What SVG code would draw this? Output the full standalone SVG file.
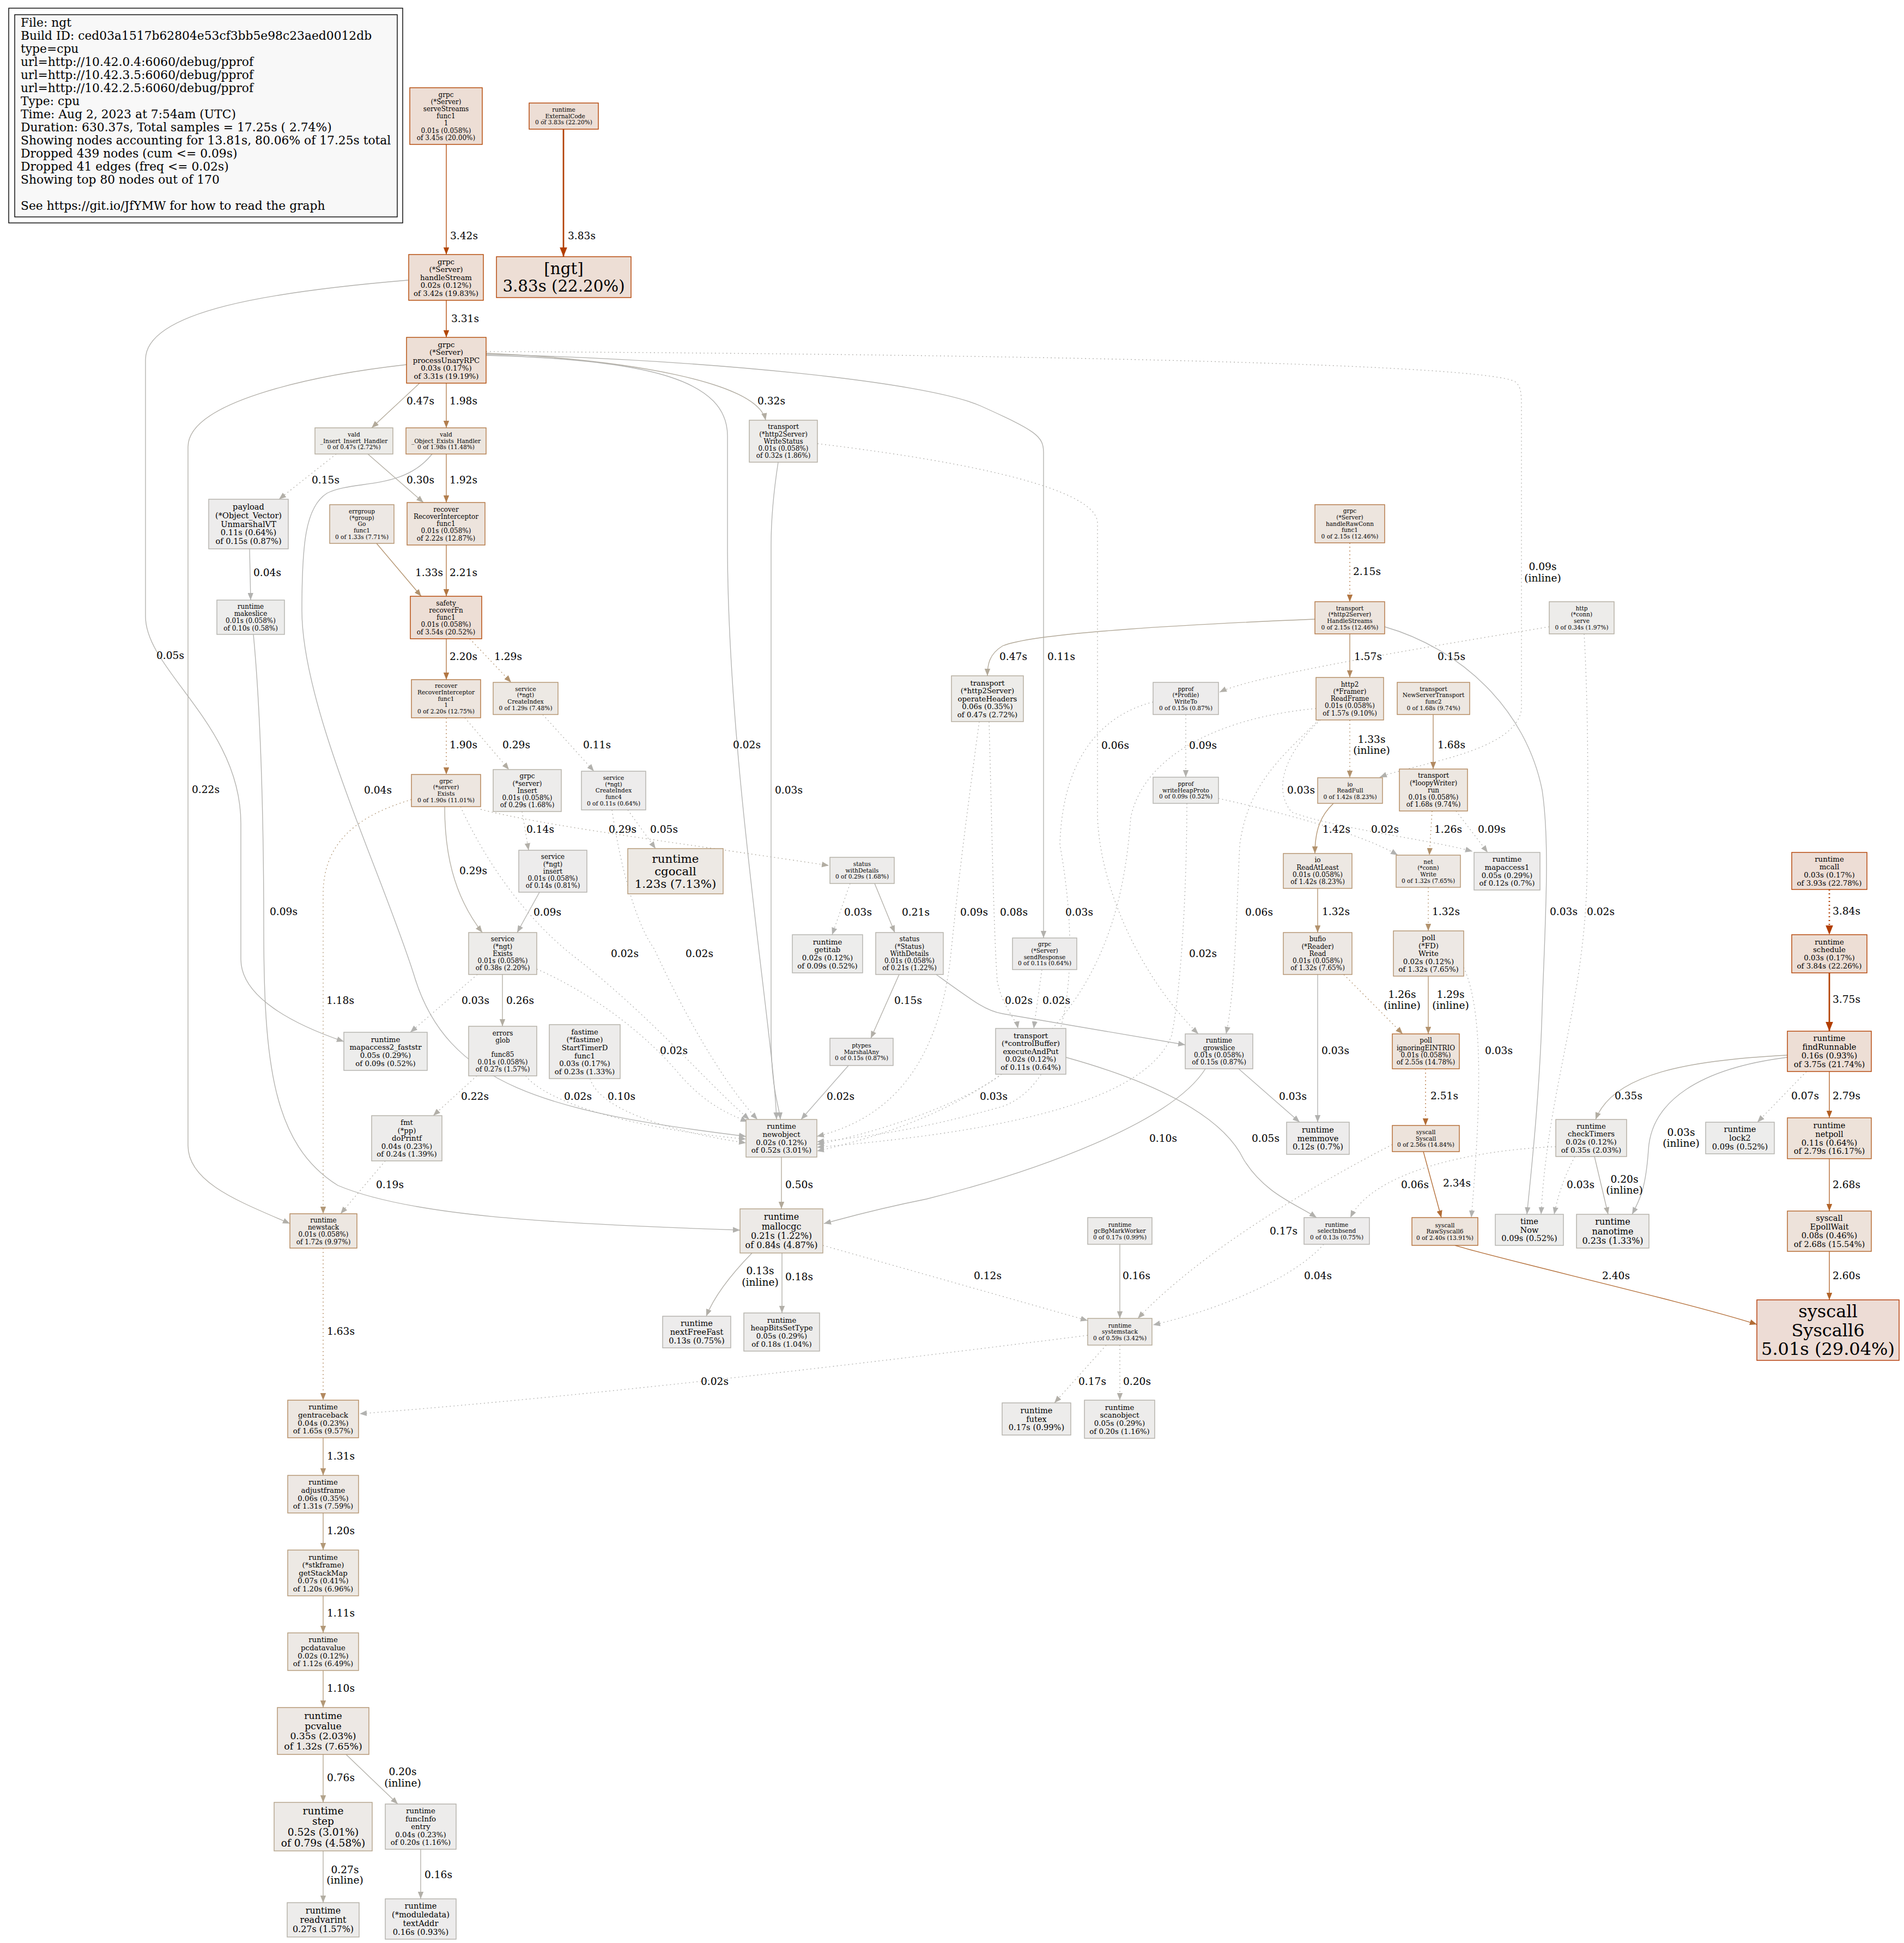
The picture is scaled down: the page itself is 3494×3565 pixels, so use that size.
<svg xmlns="http://www.w3.org/2000/svg" width="3494" height="3565" viewBox="0 0 3494 3565">
<style>
text{font-family:"DejaVu Serif",serif;fill:#000}
.n rect{stroke-width:1.4}
.n text{text-anchor:middle}
.f8{font-size:10.6px}.f9{font-size:12px}.f10{font-size:13.3px}.f11{font-size:14.6px}.f12{font-size:16px}.f13{font-size:17.3px}.f14{font-size:18.6px}.f16{font-size:21.3px}.f22{font-size:29.3px}.f24{font-size:32px}
.lg{font-size:21.8px}
.l{font-size:18.6px}
.lm{font-size:18.6px;text-anchor:middle}
.c path{fill:none;stroke-width:1.35}
.c path.e1{stroke-width:2.7}
.d{stroke-dasharray:2 5}
.e1{stroke:#b23e00;marker-end:url(#m1)}
.e2{stroke:#b24704;marker-end:url(#m2)}
.e3a{stroke:#b25e22;marker-end:url(#m3a)}
.e3b{stroke:#b26429;marker-end:url(#m3b)}
.e3c{stroke:#b26c35;marker-end:url(#m3c)}
.e4{stroke:#b27642;marker-end:url(#m4)}
.e5{stroke:#b27e4e;marker-end:url(#m5)}
.e6{stroke:#b28960;marker-end:url(#m6)}
.e7{stroke:#b2926d;marker-end:url(#m7)}
.e8{stroke:#b29877;marker-end:url(#m8)}
.e9{stroke:#b2a38b;marker-end:url(#m9)}
.e10{stroke:#b2a999;marker-end:url(#m10)}
.e11{stroke:#b2ada2;marker-end:url(#m11)}
.e12{stroke:#b2afa8;marker-end:url(#m12)}
.e13{stroke:#b2b1ad;marker-end:url(#m13)}
.e14{stroke:#b2b2b0;marker-end:url(#m14)}
</style>
<defs>
<marker id="m1" viewBox="0 0 10 8" refX="10" refY="4" markerWidth="17" markerHeight="13.6" markerUnits="userSpaceOnUse" orient="auto"><path d="M0,0L10,4L0,8z" fill="#b23e00"/></marker>
<marker id="m2" viewBox="0 0 10 8" refX="10" refY="4" markerWidth="13" markerHeight="10.4" markerUnits="userSpaceOnUse" orient="auto"><path d="M0,0L10,4L0,8z" fill="#b24704"/></marker>
<marker id="m3a" viewBox="0 0 10 8" refX="10" refY="4" markerWidth="13" markerHeight="10.4" markerUnits="userSpaceOnUse" orient="auto"><path d="M0,0L10,4L0,8z" fill="#b25e22"/></marker>
<marker id="m3b" viewBox="0 0 10 8" refX="10" refY="4" markerWidth="13" markerHeight="10.4" markerUnits="userSpaceOnUse" orient="auto"><path d="M0,0L10,4L0,8z" fill="#b26429"/></marker>
<marker id="m3c" viewBox="0 0 10 8" refX="10" refY="4" markerWidth="13" markerHeight="10.4" markerUnits="userSpaceOnUse" orient="auto"><path d="M0,0L10,4L0,8z" fill="#b26c35"/></marker>
<marker id="m4" viewBox="0 0 10 8" refX="10" refY="4" markerWidth="13" markerHeight="10.4" markerUnits="userSpaceOnUse" orient="auto"><path d="M0,0L10,4L0,8z" fill="#b27642"/></marker>
<marker id="m5" viewBox="0 0 10 8" refX="10" refY="4" markerWidth="13" markerHeight="10.4" markerUnits="userSpaceOnUse" orient="auto"><path d="M0,0L10,4L0,8z" fill="#b27e4e"/></marker>
<marker id="m6" viewBox="0 0 10 8" refX="10" refY="4" markerWidth="13" markerHeight="10.4" markerUnits="userSpaceOnUse" orient="auto"><path d="M0,0L10,4L0,8z" fill="#b28960"/></marker>
<marker id="m7" viewBox="0 0 10 8" refX="10" refY="4" markerWidth="13" markerHeight="10.4" markerUnits="userSpaceOnUse" orient="auto"><path d="M0,0L10,4L0,8z" fill="#b2926d"/></marker>
<marker id="m8" viewBox="0 0 10 8" refX="10" refY="4" markerWidth="13" markerHeight="10.4" markerUnits="userSpaceOnUse" orient="auto"><path d="M0,0L10,4L0,8z" fill="#b29877"/></marker>
<marker id="m9" viewBox="0 0 10 8" refX="10" refY="4" markerWidth="13" markerHeight="10.4" markerUnits="userSpaceOnUse" orient="auto"><path d="M0,0L10,4L0,8z" fill="#b2a38b"/></marker>
<marker id="m10" viewBox="0 0 10 8" refX="10" refY="4" markerWidth="13" markerHeight="10.4" markerUnits="userSpaceOnUse" orient="auto"><path d="M0,0L10,4L0,8z" fill="#b2a999"/></marker>
<marker id="m11" viewBox="0 0 10 8" refX="10" refY="4" markerWidth="13" markerHeight="10.4" markerUnits="userSpaceOnUse" orient="auto"><path d="M0,0L10,4L0,8z" fill="#b2ada2"/></marker>
<marker id="m12" viewBox="0 0 10 8" refX="10" refY="4" markerWidth="13" markerHeight="10.4" markerUnits="userSpaceOnUse" orient="auto"><path d="M0,0L10,4L0,8z" fill="#b2afa8"/></marker>
<marker id="m13" viewBox="0 0 10 8" refX="10" refY="4" markerWidth="13" markerHeight="10.4" markerUnits="userSpaceOnUse" orient="auto"><path d="M0,0L10,4L0,8z" fill="#b2b1ad"/></marker>
<marker id="m14" viewBox="0 0 10 8" refX="10" refY="4" markerWidth="13" markerHeight="10.4" markerUnits="userSpaceOnUse" orient="auto"><path d="M0,0L10,4L0,8z" fill="#b2b2b0"/></marker>
</defs>
<rect x="0" y="0" width="3494" height="3565" fill="#ffffff"/>

<g id="legend">
<rect x="16" y="15" width="723" height="394" fill="none" stroke="#000" stroke-width="1.4"/>
<rect x="27" y="27" width="702" height="371" fill="#f8f8f8" stroke="#000" stroke-width="1.4"/>
<text class="lg" x="38" y="49">File: ngt</text>
<text class="lg" x="38" y="73">Build ID: ced03a1517b62804e53cf3bb5e98c23aed0012db</text>
<text class="lg" x="38" y="97">type=cpu</text>
<text class="lg" x="38" y="121">url=http://10.42.0.4:6060/debug/pprof</text>
<text class="lg" x="38" y="145">url=http://10.42.3.5:6060/debug/pprof</text>
<text class="lg" x="38" y="169">url=http://10.42.2.5:6060/debug/pprof</text>
<text class="lg" x="38" y="193">Type: cpu</text>
<text class="lg" x="38" y="217">Time: Aug 2, 2023 at 7:54am (UTC)</text>
<text class="lg" x="38" y="241">Duration: 630.37s, Total samples = 17.25s ( 2.74%)</text>
<text class="lg" x="38" y="265">Showing nodes accounting for 13.81s, 80.06% of 17.25s total</text>
<text class="lg" x="38" y="289">Dropped 439 nodes (cum &lt;= 0.09s)</text>
<text class="lg" x="38" y="313">Dropped 41 edges (freq &lt;= 0.02s)</text>
<text class="lg" x="38" y="337">Showing top 80 nodes out of 170</text>
<text class="lg" x="38" y="385">See https://git.io/JfYMW for how to read the graph</text>
</g>

<g id="edges" class="c">
<path class="e2" d="M819,265L819,467"/>
<path class="e1" d="M1034,237L1034,471"/>
<path class="e2" d="M819,551L819,619"/>
<path class="e13" d="M749,514C500,535 267,570 267,660L267,1131C267,1230 442,1330 442,1511L442,1760C442,1830 540,1880 631,1911"/>
<path class="e10" d="M770,703L682,785"/>
<path class="e5" d="M819,703L819,785"/>
<path class="e12" d="M746,669C560,690 345,740 345,820L345,2102C345,2170 440,2205 532,2245"/>
<path class="e11" d="M892,648C1150,660 1390,700 1405,771"/>
<path class="e14" d="M892,652C1200,660 1335,700 1335,800L1335,1000C1335,1400 1420,1900 1425,2054"/>
<path class="e13" d="M892,650C1300,660 1700,700 1800,745C1900,790 1915,800 1915,830L1915,1721"/>
<path class="e13 d" d="M892,645C1500,648 2700,660 2780,700C2792,710 2792,720 2792,760L2792,1302C2780,1380 2600,1400 2532,1426"/>
<path class="e12 d" d="M617,833L512,916"/>
<path class="e11" d="M675,833L777,922"/>
<path class="e14" d="M793,833C740,900 650,880 600,905C560,930 554,1000 554,1120C554,1300 700,1600 760,1790C820,1990 1000,2040 1369,2085"/>
<path class="e5" d="M819,833L819,922"/>
<path class="e7" d="M691,997L773,1094"/>
<path class="e4" d="M819,1000L819,1094"/>
<path class="e14" d="M458,1007L460,1101"/>
<path class="e13" d="M465,1164C478,1300 484,1500 484,1700C484,1950 500,2100 620,2175C750,2230 1000,2245 1358,2257"/>
<path class="e4" d="M819,1172L819,1247"/>
<path class="e7 d" d="M862,1172L938,1252"/>
<path class="e5 d" d="M819,1317L819,1421"/>
<path class="e11 d" d="M853,1317L934,1412"/>
<path class="e13 d" d="M996,1311L1090,1415"/>
<path class="e11" d="M816,1480C816,1560 830,1640 885,1711"/>
<path class="e8 d" d="M755,1467C680,1490 593,1530 593,1640L593,2227"/>
<path class="e14 d" d="M845,1480C900,1600 980,1700 1060,1760C1200,1870 1300,1990 1375,2054"/>
<path class="e11 d" d="M882,1485C1000,1515 1200,1540 1521,1588"/>
<path class="e12 d" d="M958,1489L970,1560"/>
<path class="e13 d" d="M1152,1486L1203,1557"/>
<path class="e14 d" d="M1123,1486C1140,1600 1170,1700 1200,1740C1260,1870 1330,1990 1390,2054"/>
<path class="e13" d="M990,1637L949,1711"/>
<path class="e14 d" d="M1560,1621L1527,1715"/>
<path class="e12" d="M1605,1621L1642,1711"/>
<path class="e14" d="M1428,848C1420,900 1415,950 1415,1000L1415,1900C1415,2000 1430,2030 1432,2054"/>
<path class="e13 d" d="M1500,814C1800,850 2014,900 2014,960L2014,1500C2020,1640 2100,1800 2199,1897"/>
<path class="e13 d" d="M1797,1324C1780,1450 1760,1600 1745,1750C1720,1990 1600,2060 1499,2085"/>
<path class="e13 d" d="M1815,1324C1820,1500 1823,1700 1830,1800C1840,1850 1865,1870 1868,1887"/>
<path class="e13 d" d="M2176,1311L2176,1426"/>
<path class="e14 d" d="M2116,1288C2030,1310 1950,1380 1945,1550C1990,1800 1950,1990 1840,2030C1700,2070 1600,2085 1499,2095"/>
<path class="e14 d" d="M2178,1474C2178,1600 2170,1800 2150,1900C2100,2030 1800,2080 1499,2105"/>
<path class="e14 d" d="M2236,1465C2350,1490 2500,1530 2565,1569"/>
<path class="e4 d" d="M2477,996L2477,1104"/>
<path class="e10" d="M2413,1136C2200,1145 1900,1160 1840,1185C1815,1200 1812,1220 1812,1240"/>
<path class="e6" d="M2477,1163L2477,1243"/>
<path class="e14" d="M2541,1150C2680,1190 2800,1300 2830,1450C2845,1550 2835,1700 2830,1850C2826,2000 2810,2150 2802,2228"/>
<path class="e12 d" d="M2843,1150C2600,1190 2300,1240 2238,1270"/>
<path class="e14 d" d="M2907,1163C2915,1300 2915,1500 2912,1620C2905,1850 2840,2000 2828,2228"/>
<path class="e7 d" d="M2477,1321L2477,1427"/>
<path class="e14 d" d="M2415,1300C2250,1315 2100,1380 2075,1500C2060,1700 2000,2000 1499,2112"/>
<path class="e13 d" d="M2420,1321C2350,1390 2290,1440 2275,1550C2268,1700 2266,1820 2250,1897"/>
<path class="e14 d" d="M2423,1321C2370,1370 2330,1440 2370,1490C2450,1520 2620,1540 2702,1562"/>
<path class="e6" d="M2630,1311L2630,1411"/>
<path class="e7" d="M2447,1474C2425,1495 2413,1520 2413,1566"/>
<path class="e7 d" d="M2628,1488L2623,1569"/>
<path class="e13 d" d="M2672,1488L2730,1564"/>
<path class="e7" d="M2418,1630L2418,1711"/>
<path class="e7 d" d="M2621,1628L2621,1708"/>
<path class="e14" d="M2418,1788L2418,2059"/>
<path class="e7 d" d="M2466,1788L2574,1897"/>
<path class="e7" d="M2621,1791L2621,1897"/>
<path class="e14 d" d="M2686,1775C2720,1850 2720,2000 2700,2234"/>
<path class="e3c d" d="M2616,1961L2616,2065"/>
<path class="e3c" d="M2612,2113L2645,2234"/>
<path class="e12 d" d="M2555,2100C2400,2180 2200,2300 2088,2419"/>
<path class="e13 d" d="M2855,2104C2700,2110 2520,2150 2478,2234"/>
<path class="e14 d" d="M2890,2122C2870,2160 2860,2190 2852,2228"/>
<path class="e12" d="M2926,2122L2951,2228"/>
<path class="e11" d="M3280,1936C3100,1945 2960,1970 2928,2054"/>
<path class="e14" d="M3280,1940C3120,1960 3030,2020 3025,2110C3020,2180 3010,2200 2995,2228"/>
<path class="e13 d" d="M3315,1966L3225,2059"/>
<path class="e3a" d="M3357,1966L3357,2051"/>
<path class="e3b" d="M3357,2126L3357,2222"/>
<path class="e3b" d="M3357,2296L3357,2385"/>
<path class="e3c" d="M2670,2285C2750,2310 3100,2390 3224,2430"/>
<path class="e1 d" d="M3357,1632L3357,1715"/>
<path class="e1" d="M3357,1785L3357,1892"/>
<path class="e14 d" d="M876,1788L753,1894"/>
<path class="e11" d="M922,1788L922,1883"/>
<path class="e14 d" d="M985,1778C1080,1820 1180,1890 1250,1975C1300,2030 1340,2045 1372,2058"/>
<path class="e12 d" d="M875,1974L795,2047"/>
<path class="e14 d" d="M965,1974C1000,2020 1150,2070 1369,2090"/>
<path class="e13 d" d="M1083,1979C1100,2040 1250,2080 1369,2097"/>
<path class="e14" d="M1557,1955L1470,2054"/>
<path class="e12" d="M1650,1788L1598,1905"/>
<path class="e14" d="M1718,1788C1790,1840 1810,1855 1840,1860L2175,1917"/>
<path class="e14 d" d="M1912,1779L1897,1887"/>
<path class="e14 d" d="M1838,1971C1760,2030 1600,2080 1499,2100"/>
<path class="e13" d="M1956,1940C2100,1980 2240,2040 2282,2127C2320,2190 2380,2210 2416,2234"/>
<path class="e13" d="M2212,1961C2150,2060 1900,2150 1700,2200C1600,2220 1550,2235 1512,2245"/>
<path class="e14" d="M2273,1961L2385,2059"/>
<path class="e10" d="M1434,2123L1434,2218"/>
<path class="e12 d" d="M707,2130L625,2227"/>
<path class="e6 d" d="M593,2290L593,2569"/>
<path class="e12" d="M1380,2299C1340,2340 1310,2380 1296,2415"/>
<path class="e12" d="M1435,2299L1435,2409"/>
<path class="e13 d" d="M1510,2285L1996,2423"/>
<path class="e12" d="M2055,2283L2055,2419"/>
<path class="e14 d" d="M2429,2283C2380,2340 2250,2400 2116,2431"/>
<path class="e12 d" d="M2030,2468L1935,2574"/>
<path class="e12 d" d="M2055,2468L2055,2569"/>
<path class="e14 d" d="M1996,2450C1600,2500 1100,2560 660,2594"/>
<path class="e7" d="M593,2638L593,2707"/>
<path class="e8" d="M593,2776L593,2844"/>
<path class="e8" d="M593,2928L593,2996"/>
<path class="e8" d="M593,3065L593,3133"/>
<path class="e9" d="M593,3219L593,3307"/>
<path class="e12" d="M635,3219L730,3310"/>
<path class="e11" d="M593,3396L593,3491"/>
<path class="e12" d="M772,3393L772,3484"/>
</g>

<g id="edge-labels">
<text class="l" x="826" y="438.5">3.42s</text>
<text class="l" x="1042" y="438.5">3.83s</text>
<text class="l" x="828" y="591">3.31s</text>
<text class="l" x="287" y="1208.5">0.05s</text>
<text class="l" x="746" y="741.5">0.47s</text>
<text class="l" x="825" y="741.5">1.98s</text>
<text class="l" x="352" y="1454.5">0.22s</text>
<text class="l" x="1390" y="741.5">0.32s</text>
<text class="l" x="1345" y="1372.5">0.02s</text>
<text class="l" x="1922" y="1210.5">0.11s</text>
<text class="lm" x="2831" y="1045.5">0.09s</text>
<text class="lm" x="2831" y="1066.5">(inline)</text>
<text class="l" x="572" y="886.5">0.15s</text>
<text class="l" x="746" y="886.5">0.30s</text>
<text class="l" x="668" y="1455.5">0.04s</text>
<text class="l" x="825" y="886.5">1.92s</text>
<text class="l" x="762" y="1056.5">1.33s</text>
<text class="l" x="825" y="1056.5">2.21s</text>
<text class="l" x="465" y="1056.5">0.04s</text>
<text class="l" x="495" y="1678.5">0.09s</text>
<text class="l" x="825" y="1210.5">2.20s</text>
<text class="l" x="907" y="1210.5">1.29s</text>
<text class="l" x="825" y="1372.5">1.90s</text>
<text class="l" x="922" y="1372.5">0.29s</text>
<text class="l" x="1070" y="1372.5">0.11s</text>
<text class="l" x="843" y="1603.5">0.29s</text>
<text class="l" x="599" y="1841.5">1.18s</text>
<text class="l" x="1121" y="1755.5">0.02s</text>
<text class="l" x="1117" y="1527.5">0.29s</text>
<text class="l" x="966" y="1527.5">0.14s</text>
<text class="l" x="1193" y="1527.5">0.05s</text>
<text class="l" x="1258" y="1755.5">0.02s</text>
<text class="l" x="979" y="1679.5">0.09s</text>
<text class="l" x="1549" y="1679.5">0.03s</text>
<text class="l" x="1655" y="1679.5">0.21s</text>
<text class="l" x="1422" y="1455.5">0.03s</text>
<text class="l" x="2021" y="1373.5">0.06s</text>
<text class="l" x="1762" y="1679.5">0.09s</text>
<text class="l" x="1835" y="1679.5">0.08s</text>
<text class="l" x="2182" y="1373.5">0.09s</text>
<text class="l" x="1955" y="1679.5">0.03s</text>
<text class="l" x="2182" y="1755.5">0.02s</text>
<text class="l" x="2516" y="1527.5">0.02s</text>
<text class="l" x="2483" y="1054.5">2.15s</text>
<text class="l" x="1834" y="1210.5">0.47s</text>
<text class="l" x="2485" y="1210.5">1.57s</text>
<text class="l" x="2844" y="1678.5">0.03s</text>
<text class="l" x="2638" y="1210.5">0.15s</text>
<text class="l" x="2912" y="1678.5">0.02s</text>
<text class="lm" x="2517" y="1362.5">1.33s</text>
<text class="lm" x="2517" y="1382.5">(inline)</text>
<text class="l" x="2285" y="1679.5">0.06s</text>
<text class="l" x="2362" y="1455.5">0.03s</text>
<text class="l" x="2638" y="1372.5">1.68s</text>
<text class="l" x="2427" y="1527.5">1.42s</text>
<text class="l" x="2632" y="1527.5">1.26s</text>
<text class="l" x="2712" y="1527.5">0.09s</text>
<text class="l" x="2426" y="1678.5">1.32s</text>
<text class="l" x="2628" y="1678.5">1.32s</text>
<text class="l" x="2425" y="1933.5">0.03s</text>
<text class="lm" x="2573" y="1830.5">1.26s</text>
<text class="lm" x="2573" y="1850.5">(inline)</text>
<text class="lm" x="2662" y="1830.5">1.29s</text>
<text class="lm" x="2662" y="1850.5">(inline)</text>
<text class="l" x="2725" y="1933.5">0.03s</text>
<text class="l" x="2625" y="2016.5">2.51s</text>
<text class="l" x="2648" y="2176.5">2.34s</text>
<text class="l" x="2330" y="2264.5">0.17s</text>
<text class="l" x="2571" y="2179.5">0.06s</text>
<text class="l" x="2875" y="2179.5">0.03s</text>
<text class="lm" x="2981" y="2169.5">0.20s</text>
<text class="lm" x="2981" y="2189.5">(inline)</text>
<text class="l" x="2963" y="2016.5">0.35s</text>
<text class="lm" x="3085" y="2083.5">0.03s</text>
<text class="lm" x="3085" y="2103.5">(inline)</text>
<text class="l" x="3287" y="2016.5">0.07s</text>
<text class="l" x="3363" y="2016.5">2.79s</text>
<text class="l" x="3363" y="2179.5">2.68s</text>
<text class="l" x="3363" y="2346.5">2.60s</text>
<text class="l" x="2940" y="2346.5">2.40s</text>
<text class="l" x="3363" y="1677.5">3.84s</text>
<text class="l" x="3363" y="1839.5">3.75s</text>
<text class="l" x="847" y="1841.5">0.03s</text>
<text class="l" x="929" y="1841.5">0.26s</text>
<text class="l" x="1211" y="1933.5">0.02s</text>
<text class="l" x="846" y="2017.5">0.22s</text>
<text class="l" x="1035" y="2017.5">0.02s</text>
<text class="l" x="1115" y="2017.5">0.10s</text>
<text class="l" x="1517" y="2017.5">0.02s</text>
<text class="l" x="1641" y="1841.5">0.15s</text>
<text class="l" x="1844" y="1841.5">0.02s</text>
<text class="l" x="1913" y="1841.5">0.02s</text>
<text class="l" x="1798" y="2017.5">0.03s</text>
<text class="l" x="2297" y="2094.5">0.05s</text>
<text class="l" x="2109" y="2094.5">0.10s</text>
<text class="l" x="2347" y="2017.5">0.03s</text>
<text class="l" x="1441" y="2179.5">0.50s</text>
<text class="l" x="690" y="2179.5">0.19s</text>
<text class="l" x="600" y="2448.5">1.63s</text>
<text class="lm" x="1395" y="2337.5">0.13s</text>
<text class="lm" x="1395" y="2358.5">(inline)</text>
<text class="l" x="1441" y="2348.5">0.18s</text>
<text class="l" x="1787" y="2346.5">0.12s</text>
<text class="l" x="2060" y="2346.5">0.16s</text>
<text class="l" x="2393" y="2346.5">0.04s</text>
<text class="l" x="1979" y="2540.5">0.17s</text>
<text class="l" x="2061" y="2540.5">0.20s</text>
<text class="l" x="1286" y="2540.5">0.02s</text>
<text class="l" x="600" y="2677.5">1.31s</text>
<text class="l" x="600" y="2814.5">1.20s</text>
<text class="l" x="600" y="2965.5">1.11s</text>
<text class="l" x="600" y="3103.5">1.10s</text>
<text class="l" x="600" y="3267.5">0.76s</text>
<text class="lm" x="739" y="3256.5">0.20s</text>
<text class="lm" x="739" y="3277.5">(inline)</text>
<text class="lm" x="633" y="3436.5">0.27s</text>
<text class="lm" x="633" y="3455.5">(inline)</text>
<text class="l" x="779" y="3445.5">0.16s</text>
</g>

<g id="N1" class="n"><rect x="752" y="161" width="133" height="104" fill="#edded5" stroke="#b24400"/>
<text class="f9" x="818.5" y="177.6">grpc</text><text class="f9" x="818.5" y="190.8">(*Server)</text><text class="f9" x="818.5" y="204">serveStreams</text><text class="f9" x="818.5" y="217.2">func1</text><text class="f9" x="818.5" y="230.4">1</text><text class="f9" x="818.5" y="243.6">0.01s (0.058%)</text><text class="f9" x="818.5" y="256.8">of 3.45s (20.00%)</text></g>
<g id="N2" class="n"><rect x="971" y="189" width="127" height="48" fill="#edded5" stroke="#b24000"/>
<text class="f8" x="1034.5" y="205">runtime</text><text class="f8" x="1034.5" y="216.7">_ExternalCode</text><text class="f8" x="1034.5" y="228.4">0 of 3.83s (22.20%)</text></g>
<g id="N3" class="n"><rect x="750" y="467" width="137" height="84" fill="#edded5" stroke="#b24501"/>
<text class="f10" x="818.5" y="484.5">grpc</text><text class="f10" x="818.5" y="499.1">(*Server)</text><text class="f10" x="818.5" y="513.7">handleStream</text><text class="f10" x="818.5" y="528.3">0.02s (0.12%)</text><text class="f10" x="818.5" y="542.9">of 3.42s (19.83%)</text></g>
<g id="N4" class="n"><rect x="911" y="471" width="247" height="75" fill="#edded5" stroke="#b24000"/>
<text class="f22" x="1034.5" y="503">[ngt]</text><text class="f22" x="1034.5" y="534.6">3.83s (22.20%)</text></g>
<g id="N5" class="n"><rect x="746" y="619" width="146" height="84" fill="#eddfd6" stroke="#b24a07"/>
<text class="f10" x="819" y="636.5">grpc</text><text class="f10" x="819" y="651.1">(*Server)</text><text class="f10" x="819" y="665.7">processUnaryRPC</text><text class="f10" x="819" y="680.3">0.03s (0.17%)</text><text class="f10" x="819" y="694.9">of 3.31s (19.19%)</text></g>
<g id="N6" class="n"><rect x="578" y="785" width="143" height="48" fill="#edece9" stroke="#b2aa9a"/>
<text class="f8" x="649.5" y="801">vald</text><text class="f8" x="649.5" y="812.7">_Insert_Insert_Handler</text><text class="f8" x="649.5" y="824.4">0 of 0.47s (2.72%)</text></g>
<g id="N7" class="n"><rect x="745" y="785" width="147" height="48" fill="#ede6df" stroke="#b27c4c"/>
<text class="f8" x="818.5" y="801">vald</text><text class="f8" x="818.5" y="812.7">_Object_Exists_Handler</text><text class="f8" x="818.5" y="824.4">0 of 1.98s (11.48%)</text></g>
<g id="N8" class="n"><rect x="383" y="916" width="146" height="91" fill="#edecec" stroke="#b2b0aa"/>
<text class="f11" x="456" y="935">payload</text><text class="f11" x="456" y="950.8">(*Object_Vector)</text><text class="f11" x="456" y="966.6">UnmarshalVT</text><text class="f11" x="456" y="982.4">0.11s (0.64%)</text><text class="f11" x="456" y="998.2">of 0.15s (0.87%)</text></g>
<g id="N9" class="n"><rect x="605" y="926" width="118" height="71" fill="#ede8e4" stroke="#b2926d"/>
<text class="f8" x="664" y="941.8">errgroup</text><text class="f8" x="664" y="953.5">(*group)</text><text class="f8" x="664" y="965.2">Go</text><text class="f8" x="664" y="976.9">func1</text><text class="f8" x="664" y="988.6">0 of 1.33s (7.71%)</text></g>
<g id="N10" class="n"><rect x="747" y="922" width="143" height="78" fill="#ede4dd" stroke="#b2743f"/>
<text class="f9" x="818.5" y="938.8">recover</text><text class="f9" x="818.5" y="952">RecoverInterceptor</text><text class="f9" x="818.5" y="965.2">func1</text><text class="f9" x="818.5" y="978.4">0.01s (0.058%)</text><text class="f9" x="818.5" y="991.6">of 2.22s (12.87%)</text></g>
<g id="N11" class="n"><rect x="753" y="1094" width="131" height="78" fill="#edded5" stroke="#b24300"/>
<text class="f9" x="818.5" y="1110.8">safety</text><text class="f9" x="818.5" y="1124">recoverFn</text><text class="f9" x="818.5" y="1137.2">func1</text><text class="f9" x="818.5" y="1150.4">0.01s (0.058%)</text><text class="f9" x="818.5" y="1163.6">of 3.54s (20.52%)</text></g>
<g id="N12" class="n"><rect x="398" y="1101" width="124" height="63" fill="#ededec" stroke="#b2b1ad"/>
<text class="f9" x="460" y="1116.9">runtime</text><text class="f9" x="460" y="1130.1">makeslice</text><text class="f9" x="460" y="1143.3">0.01s (0.058%)</text><text class="f9" x="460" y="1156.5">of 0.10s (0.58%)</text></g>
<g id="N13" class="n"><rect x="755" y="1247" width="127" height="70" fill="#ede5de" stroke="#b27540"/>
<text class="f8" x="818.5" y="1262.3">recover</text><text class="f8" x="818.5" y="1274">RecoverInterceptor</text><text class="f8" x="818.5" y="1285.7">func1</text><text class="f8" x="818.5" y="1297.4">1</text><text class="f8" x="818.5" y="1309.1">0 of 2.20s (12.75%)</text></g>
<g id="N14" class="n"><rect x="905" y="1252" width="119" height="59" fill="#ede9e4" stroke="#b2936f"/>
<text class="f8" x="964.5" y="1267.7">service</text><text class="f8" x="964.5" y="1279.4">(*ngt)</text><text class="f8" x="964.5" y="1291.1">CreateIndex</text><text class="f8" x="964.5" y="1302.8">0 of 1.29s (7.48%)</text></g>
<g id="N15" class="n"><rect x="755" y="1421" width="127" height="59" fill="#ede6e0" stroke="#b27f50"/>
<text class="f8" x="818.5" y="1436.7">grpc</text><text class="f8" x="818.5" y="1448.4">(*server)</text><text class="f8" x="818.5" y="1460.1">Exists</text><text class="f8" x="818.5" y="1471.8">0 of 1.90s (11.01%)</text></g>
<g id="N16" class="n"><rect x="905" y="1412" width="125" height="77" fill="#edeceb" stroke="#b2aea3"/>
<text class="f9" x="967.5" y="1428.3">grpc</text><text class="f9" x="967.5" y="1441.5">(*server)</text><text class="f9" x="967.5" y="1454.7">Insert</text><text class="f9" x="967.5" y="1467.9">0.01s (0.058%)</text><text class="f9" x="967.5" y="1481.1">of 0.29s (1.68%)</text></g>
<g id="N17" class="n"><rect x="1067" y="1415" width="118" height="71" fill="#edecec" stroke="#b2b1ac"/>
<text class="f8" x="1126" y="1430.8">service</text><text class="f8" x="1126" y="1442.5">(*ngt)</text><text class="f8" x="1126" y="1454.2">CreateIndex</text><text class="f8" x="1126" y="1465.9">func4</text><text class="f8" x="1126" y="1477.6">0 of 0.11s (0.64%)</text></g>
<g id="N18" class="n"><rect x="952" y="1560" width="125" height="77" fill="#edecec" stroke="#b2b0ab"/>
<text class="f9" x="1014.5" y="1576.3">service</text><text class="f9" x="1014.5" y="1589.5">(*ngt)</text><text class="f9" x="1014.5" y="1602.7">insert</text><text class="f9" x="1014.5" y="1615.9">0.01s (0.058%)</text><text class="f9" x="1014.5" y="1629.1">of 0.14s (0.81%)</text></g>
<g id="N19" class="n"><rect x="1152" y="1557" width="175" height="83" fill="#ede9e4" stroke="#b29572"/>
<text class="f16" x="1239.5" y="1583">runtime</text><text class="f16" x="1239.5" y="1606">cgocall</text><text class="f16" x="1239.5" y="1629">1.23s (7.13%)</text></g>
<g id="N20" class="n"><rect x="1523" y="1573" width="118" height="48" fill="#edeceb" stroke="#b2aea3"/>
<text class="f8" x="1582" y="1589">status</text><text class="f8" x="1582" y="1600.7">withDetails</text><text class="f8" x="1582" y="1612.4">0 of 0.29s (1.68%)</text></g>
<g id="N21" class="n"><rect x="1375" y="771" width="125" height="77" fill="#edecea" stroke="#b2ada1"/>
<text class="f9" x="1437.5" y="787.3">transport</text><text class="f9" x="1437.5" y="800.5">(*http2Server)</text><text class="f9" x="1437.5" y="813.7">WriteStatus</text><text class="f9" x="1437.5" y="826.9">0.01s (0.058%)</text><text class="f9" x="1437.5" y="840.1">of 0.32s (1.86%)</text></g>
<g id="N22" class="n"><rect x="1746" y="1240" width="132" height="84" fill="#edece9" stroke="#b2aa9a"/>
<text class="f10" x="1812" y="1257.5">transport</text><text class="f10" x="1812" y="1272.1">(*http2Server)</text><text class="f10" x="1812" y="1286.7">operateHeaders</text><text class="f10" x="1812" y="1301.3">0.06s (0.35%)</text><text class="f10" x="1812" y="1315.9">of 0.47s (2.72%)</text></g>
<g id="N23" class="n"><rect x="2116" y="1252" width="120" height="59" fill="#edecec" stroke="#b2b0aa"/>
<text class="f8" x="2176" y="1267.7">pprof</text><text class="f8" x="2176" y="1279.4">(*Profile)</text><text class="f8" x="2176" y="1291.1">WriteTo</text><text class="f8" x="2176" y="1302.8">0 of 0.15s (0.87%)</text></g>
<g id="N24" class="n"><rect x="2116" y="1426" width="120" height="48" fill="#ededec" stroke="#b2b1ad"/>
<text class="f8" x="2176" y="1442">pprof</text><text class="f8" x="2176" y="1453.7">writeHeapProto</text><text class="f8" x="2176" y="1465.4">0 of 0.09s (0.52%)</text></g>
<g id="N25" class="n"><rect x="2413" y="926" width="128" height="70" fill="#ede5de" stroke="#b27643"/>
<text class="f8" x="2477" y="941.3">grpc</text><text class="f8" x="2477" y="953">(*Server)</text><text class="f8" x="2477" y="964.7">handleRawConn</text><text class="f8" x="2477" y="976.4">func1</text><text class="f8" x="2477" y="988.1">0 of 2.15s (12.46%)</text></g>
<g id="N26" class="n"><rect x="2413" y="1104" width="128" height="59" fill="#ede5de" stroke="#b27643"/>
<text class="f8" x="2477" y="1119.7">transport</text><text class="f8" x="2477" y="1131.4">(*http2Server)</text><text class="f8" x="2477" y="1143.1">HandleStreams</text><text class="f8" x="2477" y="1154.8">0 of 2.15s (12.46%)</text></g>
<g id="N27" class="n"><rect x="2843" y="1104" width="119" height="59" fill="#edecea" stroke="#b2ada0"/>
<text class="f8" x="2902.5" y="1119.7">http</text><text class="f8" x="2902.5" y="1131.4">(*conn)</text><text class="f8" x="2902.5" y="1143.1">serve</text><text class="f8" x="2902.5" y="1154.8">0 of 0.34s (1.97%)</text></g>
<g id="N28" class="n"><rect x="2415" y="1243" width="124" height="78" fill="#ede7e2" stroke="#b28a61"/>
<text class="f9" x="2477" y="1259.8">http2</text><text class="f9" x="2477" y="1273">(*Framer)</text><text class="f9" x="2477" y="1286.2">ReadFrame</text><text class="f9" x="2477" y="1299.4">0.01s (0.058%)</text><text class="f9" x="2477" y="1312.6">of 1.57s (9.10%)</text></g>
<g id="N29" class="n"><rect x="2564" y="1252" width="133" height="59" fill="#ede7e1" stroke="#b2875b"/>
<text class="f8" x="2630.5" y="1267.7">transport</text><text class="f8" x="2630.5" y="1279.4">NewServerTransport</text><text class="f8" x="2630.5" y="1291.1">func2</text><text class="f8" x="2630.5" y="1302.8">0 of 1.68s (9.74%)</text></g>
<g id="N30" class="n"><rect x="2418" y="1427" width="119" height="47" fill="#ede8e3" stroke="#b28f69"/>
<text class="f8" x="2477.5" y="1442.5">io</text><text class="f8" x="2477.5" y="1454.2">ReadFull</text><text class="f8" x="2477.5" y="1465.9">0 of 1.42s (8.23%)</text></g>
<g id="N31" class="n"><rect x="2568" y="1411" width="125" height="77" fill="#ede7e1" stroke="#b2875b"/>
<text class="f9" x="2630.5" y="1427.3">transport</text><text class="f9" x="2630.5" y="1440.5">(*loopyWriter)</text><text class="f9" x="2630.5" y="1453.7">run</text><text class="f9" x="2630.5" y="1466.9">0.01s (0.058%)</text><text class="f9" x="2630.5" y="1480.1">of 1.68s (9.74%)</text></g>
<g id="N32" class="n"><rect x="2355" y="1566" width="126" height="64" fill="#ede8e3" stroke="#b28f69"/>
<text class="f9" x="2418" y="1582.4">io</text><text class="f9" x="2418" y="1595.6">ReadAtLeast</text><text class="f9" x="2418" y="1608.8">0.01s (0.058%)</text><text class="f9" x="2418" y="1622">of 1.42s (8.23%)</text></g>
<g id="N33" class="n"><rect x="2562" y="1569" width="118" height="59" fill="#ede8e4" stroke="#b2926e"/>
<text class="f8" x="2621" y="1584.7">net</text><text class="f8" x="2621" y="1596.4">(*conn)</text><text class="f8" x="2621" y="1608.1">Write</text><text class="f8" x="2621" y="1619.8">0 of 1.32s (7.65%)</text></g>
<g id="N34" class="n"><rect x="2705" y="1564" width="121" height="69" fill="#edecec" stroke="#b2b1ac"/>
<text class="f10" x="2765.5" y="1581.3">runtime</text><text class="f10" x="2765.5" y="1595.9">mapaccess1</text><text class="f10" x="2765.5" y="1610.5">0.05s (0.29%)</text><text class="f10" x="2765.5" y="1625.1">of 0.12s (0.7%)</text></g>
<g id="N35" class="n"><rect x="2355" y="1711" width="126" height="77" fill="#ede8e4" stroke="#b2926e"/>
<text class="f9" x="2418" y="1727.3">bufio</text><text class="f9" x="2418" y="1740.5">(*Reader)</text><text class="f9" x="2418" y="1753.7">Read</text><text class="f9" x="2418" y="1766.9">0.01s (0.058%)</text><text class="f9" x="2418" y="1780.1">of 1.32s (7.65%)</text></g>
<g id="N36" class="n"><rect x="2557" y="1708" width="129" height="83" fill="#ede8e4" stroke="#b2926e"/>
<text class="f10" x="2621.5" y="1725">poll</text><text class="f10" x="2621.5" y="1739.6">(*FD)</text><text class="f10" x="2621.5" y="1754.2">Write</text><text class="f10" x="2621.5" y="1768.8">0.02s (0.12%)</text><text class="f10" x="2621.5" y="1783.4">of 1.32s (7.65%)</text></g>
<g id="N37" class="n"><rect x="3288" y="1564" width="138" height="68" fill="#edddd5" stroke="#b23f00"/>
<text class="f10" x="3357" y="1580.8">runtime</text><text class="f10" x="3357" y="1595.4">mcall</text><text class="f10" x="3357" y="1610">0.03s (0.17%)</text><text class="f10" x="3357" y="1624.6">of 3.93s (22.78%)</text></g>
<g id="N38" class="n"><rect x="3288" y="1715" width="138" height="70" fill="#edded5" stroke="#b24000"/>
<text class="f10" x="3357" y="1732.8">runtime</text><text class="f10" x="3357" y="1747.4">schedule</text><text class="f10" x="3357" y="1762">0.03s (0.17%)</text><text class="f10" x="3357" y="1776.6">of 3.84s (22.26%)</text></g>
<g id="N39" class="n"><rect x="3280" y="1892" width="154" height="74" fill="#edded5" stroke="#b24100"/>
<text class="f11" x="3357" y="1910.4">runtime</text><text class="f11" x="3357" y="1926.2">findRunnable</text><text class="f11" x="3357" y="1942">0.16s (0.93%)</text><text class="f11" x="3357" y="1957.8">of 3.75s (21.74%)</text></g>
<g id="N40" class="n"><rect x="860" y="1711" width="125" height="77" fill="#edecea" stroke="#b2ac9e"/>
<text class="f9" x="922.5" y="1727.3">service</text><text class="f9" x="922.5" y="1740.5">(*ngt)</text><text class="f9" x="922.5" y="1753.7">Exists</text><text class="f9" x="922.5" y="1766.9">0.01s (0.058%)</text><text class="f9" x="922.5" y="1780.1">of 0.38s (2.20%)</text></g>
<g id="N41" class="n"><rect x="1454" y="1715" width="129" height="70" fill="#ededec" stroke="#b2b1ad"/>
<text class="f10" x="1518.5" y="1732.8">runtime</text><text class="f10" x="1518.5" y="1747.4">getitab</text><text class="f10" x="1518.5" y="1762">0.02s (0.12%)</text><text class="f10" x="1518.5" y="1776.6">of 0.09s (0.52%)</text></g>
<g id="N42" class="n"><rect x="1607" y="1711" width="124" height="77" fill="#edeceb" stroke="#b2afa7"/>
<text class="f9" x="1669" y="1727.3">status</text><text class="f9" x="1669" y="1740.5">(*Status)</text><text class="f9" x="1669" y="1753.7">WithDetails</text><text class="f9" x="1669" y="1766.9">0.01s (0.058%)</text><text class="f9" x="1669" y="1780.1">of 0.21s (1.22%)</text></g>
<g id="N43" class="n"><rect x="1858" y="1721" width="118" height="58" fill="#edecec" stroke="#b2b1ac"/>
<text class="f8" x="1917" y="1736.2">grpc</text><text class="f8" x="1917" y="1747.9">(*Server)</text><text class="f8" x="1917" y="1759.6">sendResponse</text><text class="f8" x="1917" y="1771.3">0 of 0.11s (0.64%)</text></g>
<g id="N44" class="n"><rect x="631" y="1894" width="153" height="70" fill="#ededec" stroke="#b2b1ad"/>
<text class="f10" x="707.5" y="1911.8">runtime</text><text class="f10" x="707.5" y="1926.4">mapaccess2_faststr</text><text class="f10" x="707.5" y="1941">0.05s (0.29%)</text><text class="f10" x="707.5" y="1955.6">of 0.09s (0.52%)</text></g>
<g id="N45" class="n"><rect x="860" y="1883" width="125" height="91" fill="#edeceb" stroke="#b2aea4"/>
<text class="f9" x="922.5" y="1899.7">errors</text><text class="f9" x="922.5" y="1912.9">glob</text><text class="f9" x="922.5" y="1939.3">func85</text><text class="f9" x="922.5" y="1952.5">0.01s (0.058%)</text><text class="f9" x="922.5" y="1965.7">of 0.27s (1.57%)</text></g>
<g id="N46" class="n"><rect x="1008" y="1880" width="130" height="99" fill="#edeceb" stroke="#b2afa6"/>
<text class="f10" x="1073" y="1897.7">fastime</text><text class="f10" x="1073" y="1912.3">(*fastime)</text><text class="f10" x="1073" y="1926.9">StartTimerD</text><text class="f10" x="1073" y="1941.5">func1</text><text class="f10" x="1073" y="1956.1">0.03s (0.17%)</text><text class="f10" x="1073" y="1970.7">of 0.23s (1.33%)</text></g>
<g id="N47" class="n"><rect x="1523" y="1905" width="116" height="50" fill="#edecec" stroke="#b2b0aa"/>
<text class="f8" x="1581" y="1922">ptypes</text><text class="f8" x="1581" y="1933.7">MarshalAny</text><text class="f8" x="1581" y="1945.4">0 of 0.15s (0.87%)</text></g>
<g id="N48" class="n"><rect x="1827" y="1887" width="129" height="84" fill="#edecec" stroke="#b2b1ac"/>
<text class="f10" x="1891.5" y="1904.5">transport</text><text class="f10" x="1891.5" y="1919.1">(*controlBuffer)</text><text class="f10" x="1891.5" y="1933.7">executeAndPut</text><text class="f10" x="1891.5" y="1948.3">0.02s (0.12%)</text><text class="f10" x="1891.5" y="1962.9">of 0.11s (0.64%)</text></g>
<g id="N49" class="n"><rect x="2175" y="1897" width="124" height="64" fill="#edecec" stroke="#b2b0aa"/>
<text class="f9" x="2237" y="1913.4">runtime</text><text class="f9" x="2237" y="1926.6">growslice</text><text class="f9" x="2237" y="1939.8">0.01s (0.058%)</text><text class="f9" x="2237" y="1953">of 0.15s (0.87%)</text></g>
<g id="N50" class="n"><rect x="2555" y="1897" width="123" height="64" fill="#ede3db" stroke="#b2682e"/>
<text class="f9" x="2616.5" y="1913.4">poll</text><text class="f9" x="2616.5" y="1926.6">ignoringEINTRIO</text><text class="f9" x="2616.5" y="1939.8">0.01s (0.058%)</text><text class="f9" x="2616.5" y="1953">of 2.55s (14.78%)</text></g>
<g id="N51" class="n"><rect x="1369" y="2054" width="130" height="69" fill="#edebe9" stroke="#b2a997"/>
<text class="f10" x="1434" y="2071.3">runtime</text><text class="f10" x="1434" y="2085.9">newobject</text><text class="f10" x="1434" y="2100.5">0.02s (0.12%)</text><text class="f10" x="1434" y="2115.1">of 0.52s (3.01%)</text></g>
<g id="N52" class="n"><rect x="682" y="2047" width="129" height="83" fill="#edeceb" stroke="#b2afa6"/>
<text class="f10" x="746.5" y="2064">fmt</text><text class="f10" x="746.5" y="2078.6">(*pp)</text><text class="f10" x="746.5" y="2093.2">doPrintf</text><text class="f10" x="746.5" y="2107.8">0.04s (0.23%)</text><text class="f10" x="746.5" y="2122.4">of 0.24s (1.39%)</text></g>
<g id="N53" class="n"><rect x="2361" y="2059" width="115" height="59" fill="#edecec" stroke="#b2b1ac"/>
<text class="f11" x="2418.5" y="2077.8">runtime</text><text class="f11" x="2418.5" y="2093.6">memmove</text><text class="f11" x="2418.5" y="2109.4">0.12s (0.7%)</text></g>
<g id="N54" class="n"><rect x="2555" y="2065" width="123" height="48" fill="#ede3db" stroke="#b2672e"/>
<text class="f8" x="2616.5" y="2081">syscall</text><text class="f8" x="2616.5" y="2092.7">Syscall</text><text class="f8" x="2616.5" y="2104.4">0 of 2.56s (14.84%)</text></g>
<g id="N55" class="n"><rect x="2855" y="2054" width="130" height="68" fill="#edecea" stroke="#b2aca0"/>
<text class="f10" x="2920" y="2070.8">runtime</text><text class="f10" x="2920" y="2085.4">checkTimers</text><text class="f10" x="2920" y="2100">0.02s (0.12%)</text><text class="f10" x="2920" y="2114.6">of 0.35s (2.03%)</text></g>
<g id="N56" class="n"><rect x="3130" y="2059" width="126" height="58" fill="#ededec" stroke="#b2b1ad"/>
<text class="f11" x="3193" y="2077.3">runtime</text><text class="f11" x="3193" y="2093.1">lock2</text><text class="f11" x="3193" y="2108.9">0.09s (0.52%)</text></g>
<g id="N57" class="n"><rect x="3280" y="2051" width="154" height="75" fill="#ede2d9" stroke="#b25e22"/>
<text class="f11" x="3357" y="2069.9">runtime</text><text class="f11" x="3357" y="2085.7">netpoll</text><text class="f11" x="3357" y="2101.5">0.11s (0.64%)</text><text class="f11" x="3357" y="2117.3">of 2.79s (16.17%)</text></g>
<g id="N58" class="n"><rect x="532" y="2227" width="123" height="63" fill="#ede7e1" stroke="#b28559"/>
<text class="f9" x="593.5" y="2242.9">runtime</text><text class="f9" x="593.5" y="2256.1">newstack</text><text class="f9" x="593.5" y="2269.3">0.01s (0.058%)</text><text class="f9" x="593.5" y="2282.5">of 1.72s (9.97%)</text></g>
<g id="N59" class="n"><rect x="1358" y="2218" width="152" height="81" fill="#edeae7" stroke="#b2a087"/>
<text class="f12" x="1434" y="2238.2">runtime</text><text class="f12" x="1434" y="2255.5">mallocgc</text><text class="f12" x="1434" y="2272.8">0.21s (1.22%)</text><text class="f12" x="1434" y="2290.1">of 0.84s (4.87%)</text></g>
<g id="N60" class="n"><rect x="1996" y="2234" width="118" height="49" fill="#edeceb" stroke="#b2b0a9"/>
<text class="f8" x="2055" y="2250.5">runtime</text><text class="f8" x="2055" y="2262.2">gcBgMarkWorker</text><text class="f8" x="2055" y="2273.9">0 of 0.17s (0.99%)</text></g>
<g id="N61" class="n"><rect x="2393" y="2234" width="120" height="49" fill="#edecec" stroke="#b2b0ab"/>
<text class="f8" x="2453" y="2250.5">runtime</text><text class="f8" x="2453" y="2262.2">selectnbsend</text><text class="f8" x="2453" y="2273.9">0 of 0.13s (0.75%)</text></g>
<g id="N62" class="n"><rect x="2591" y="2234" width="121" height="51" fill="#ede4dc" stroke="#b26d36"/>
<text class="f8" x="2651.5" y="2251.5">syscall</text><text class="f8" x="2651.5" y="2263.2">RawSyscall6</text><text class="f8" x="2651.5" y="2274.9">0 of 2.40s (13.91%)</text></g>
<g id="N63" class="n"><rect x="2744" y="2228" width="125" height="57" fill="#ededec" stroke="#b2b1ad"/>
<text class="f11" x="2806.5" y="2245.8">time</text><text class="f11" x="2806.5" y="2261.6">Now</text><text class="f11" x="2806.5" y="2277.4">0.09s (0.52%)</text></g>
<g id="N64" class="n"><rect x="2893" y="2228" width="133" height="62" fill="#edeceb" stroke="#b2afa6"/>
<text class="f12" x="2959.5" y="2247.3">runtime</text><text class="f12" x="2959.5" y="2264.6">nanotime</text><text class="f12" x="2959.5" y="2281.9">0.23s (1.33%)</text></g>
<g id="N65" class="n"><rect x="3280" y="2222" width="154" height="74" fill="#ede2da" stroke="#b26327"/>
<text class="f11" x="3357" y="2240.4">syscall</text><text class="f11" x="3357" y="2256.2">EpollWait</text><text class="f11" x="3357" y="2272">0.08s (0.46%)</text><text class="f11" x="3357" y="2287.8">of 2.68s (15.54%)</text></g>
<g id="N66" class="n"><rect x="1216" y="2415" width="125" height="58" fill="#edecec" stroke="#b2b0ab"/>
<text class="f11" x="1278.5" y="2433.3">runtime</text><text class="f11" x="1278.5" y="2449.1">nextFreeFast</text><text class="f11" x="1278.5" y="2464.9">0.13s (0.75%)</text></g>
<g id="N67" class="n"><rect x="1365" y="2409" width="139" height="70" fill="#edeceb" stroke="#b2b0a9"/>
<text class="f10" x="1434.5" y="2426.8">runtime</text><text class="f10" x="1434.5" y="2441.4">heapBitsSetType</text><text class="f10" x="1434.5" y="2456">0.05s (0.29%)</text><text class="f10" x="1434.5" y="2470.6">of 0.18s (1.04%)</text></g>
<g id="N68" class="n"><rect x="1996" y="2419" width="118" height="49" fill="#edebe9" stroke="#b2a793"/>
<text class="f8" x="2055" y="2435.5">runtime</text><text class="f8" x="2055" y="2447.2">systemstack</text><text class="f8" x="2055" y="2458.9">0 of 0.59s (3.42%)</text></g>
<g id="N69" class="n"><rect x="3224" y="2385" width="261" height="111" fill="#eddcd5" stroke="#b23700"/>
<text class="f24" x="3354.5" y="2417.2">syscall</text><text class="f24" x="3354.5" y="2451.7">Syscall6</text><text class="f24" x="3354.5" y="2486.2">5.01s (29.04%)</text></g>
<g id="N70" class="n"><rect x="528" y="2569" width="130" height="69" fill="#ede7e1" stroke="#b2885d"/>
<text class="f10" x="593" y="2586.3">runtime</text><text class="f10" x="593" y="2600.9">gentraceback</text><text class="f10" x="593" y="2615.5">0.04s (0.23%)</text><text class="f10" x="593" y="2630.1">of 1.65s (9.57%)</text></g>
<g id="N71" class="n"><rect x="1839" y="2574" width="126" height="59" fill="#edeceb" stroke="#b2b0a9"/>
<text class="f11" x="1902" y="2592.8">runtime</text><text class="f11" x="1902" y="2608.6">futex</text><text class="f11" x="1902" y="2624.4">0.17s (0.99%)</text></g>
<g id="N72" class="n"><rect x="1990" y="2569" width="129" height="70" fill="#edeceb" stroke="#b2afa8"/>
<text class="f10" x="2054.5" y="2586.8">runtime</text><text class="f10" x="2054.5" y="2601.4">scanobject</text><text class="f10" x="2054.5" y="2616">0.05s (0.29%)</text><text class="f10" x="2054.5" y="2630.6">of 0.20s (1.16%)</text></g>
<g id="N73" class="n"><rect x="528" y="2707" width="130" height="69" fill="#ede8e4" stroke="#b2936e"/>
<text class="f10" x="593" y="2724.3">runtime</text><text class="f10" x="593" y="2738.9">adjustframe</text><text class="f10" x="593" y="2753.5">0.06s (0.35%)</text><text class="f10" x="593" y="2768.1">of 1.31s (7.59%)</text></g>
<g id="N74" class="n"><rect x="528" y="2844" width="130" height="84" fill="#ede9e4" stroke="#b29674"/>
<text class="f10" x="593" y="2861.5">runtime</text><text class="f10" x="593" y="2876.1">(*stkframe)</text><text class="f10" x="593" y="2890.7">getStackMap</text><text class="f10" x="593" y="2905.3">0.07s (0.41%)</text><text class="f10" x="593" y="2919.9">of 1.20s (6.96%)</text></g>
<g id="N75" class="n"><rect x="528" y="2996" width="130" height="69" fill="#ede9e5" stroke="#b29978"/>
<text class="f10" x="593" y="3013.3">runtime</text><text class="f10" x="593" y="3027.9">pcdatavalue</text><text class="f10" x="593" y="3042.5">0.02s (0.12%)</text><text class="f10" x="593" y="3057.1">of 1.12s (6.49%)</text></g>
<g id="N76" class="n"><rect x="509" y="3133" width="168" height="86" fill="#ede8e4" stroke="#b2926e"/>
<text class="f13" x="593" y="3154.4">runtime</text><text class="f13" x="593" y="3172.9">pcvalue</text><text class="f13" x="593" y="3191.4">0.35s (2.03%)</text><text class="f13" x="593" y="3209.9">of 1.32s (7.65%)</text></g>
<g id="N77" class="n"><rect x="503" y="3307" width="180" height="89" fill="#edeae7" stroke="#b2a289"/>
<text class="f14" x="593" y="3328.5">runtime</text><text class="f14" x="593" y="3348.2">step</text><text class="f14" x="593" y="3367.9">0.52s (3.01%)</text><text class="f14" x="593" y="3387.6">of 0.79s (4.58%)</text></g>
<g id="N78" class="n"><rect x="707" y="3310" width="130" height="83" fill="#edeceb" stroke="#b2afa8"/>
<text class="f10" x="772" y="3327">runtime</text><text class="f10" x="772" y="3341.6">funcInfo</text><text class="f10" x="772" y="3356.2">entry</text><text class="f10" x="772" y="3370.8">0.04s (0.23%)</text><text class="f10" x="772" y="3385.4">of 0.20s (1.16%)</text></g>
<g id="N79" class="n"><rect x="527" y="3491" width="132" height="63" fill="#edeceb" stroke="#b2aea4"/>
<text class="f12" x="593" y="3510.8">runtime</text><text class="f12" x="593" y="3528.1">readvarint</text><text class="f12" x="593" y="3545.4">0.27s (1.57%)</text></g>
<g id="N80" class="n"><rect x="707" y="3484" width="130" height="74" fill="#edecec" stroke="#b2b0aa"/>
<text class="f11" x="772" y="3502.4">runtime</text><text class="f11" x="772" y="3518.2">(*moduledata)</text><text class="f11" x="772" y="3534">textAddr</text><text class="f11" x="772" y="3549.8">0.16s (0.93%)</text></g>
</svg>
